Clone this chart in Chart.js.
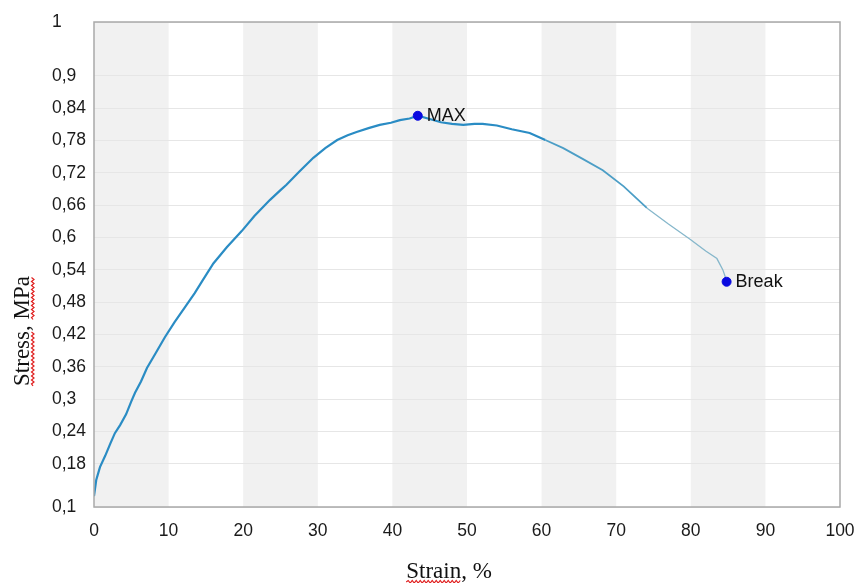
<!DOCTYPE html>
<html>
<head>
<meta charset="utf-8">
<script src="https://cdn.jsdelivr.net/npm/chart.js@4/dist/chart.umd.min.js"></script>
<style>
  html, body { margin: 0; padding: 0; background: #fff; }
  #wrap { width: 858px; height: 583px; }
</style>
</head>
<body>
<div id="wrap"><canvas id="chart"></canvas></div>
<script>
// Данные кривой
const strain = [0, 0.3, 0.8, 1.5, 2.2, 2.8, 3.5, 4.3, 5.0, 5.5, 6.3, 7.1, 8.2, 9.5, 10.8, 12.2, 13.5, 14.5,
    16.0, 17.8, 19.8, 21.5, 23.6, 25.0, 25.8, 27.5, 29.4, 31.0, 32.6, 34.0, 35.2, 36.8, 38.3, 39.8, 41.0,
    42.3, 43.4, 45.0, 46.5, 48.0, 49.5, 51.0, 52.1, 54.0, 56.0, 58.4, 60.5, 62.9, 65.5, 68.2, 71.0, 74.1,
    77.0, 79.9, 82.0, 83.5, 84.3, 84.8];
const stress = [0.12, 0.15, 0.174, 0.195, 0.218, 0.237, 0.252, 0.272, 0.296, 0.312, 0.333, 0.358, 0.384,
    0.415, 0.443, 0.471, 0.497, 0.519, 0.552, 0.582, 0.612, 0.640, 0.670, 0.688, 0.698, 0.722, 0.748, 0.766,
    0.781, 0.790, 0.796, 0.803, 0.809, 0.813, 0.818, 0.821, 0.826, 0.820, 0.814, 0.811, 0.809, 0.811, 0.811,
    0.808, 0.801, 0.794, 0.781, 0.766, 0.746, 0.725, 0.695, 0.655, 0.625, 0.597, 0.575, 0.561, 0.540, 0.520];

// Отмеченные точки
const markerLabels = ['MAX', 'Break'];
const markerStrain = [43.4, 84.8];
const markerStress = [0.826, 0.518];

// Подписи осей
const yTicks = [0.1, 0.18, 0.24, 0.3, 0.36, 0.42, 0.48, 0.54, 0.6, 0.66, 0.72, 0.78, 0.84, 0.9, 1];
const xTitle = 'Strain, %';
const yTitle = 'Stress, MPa';

const curve = strain.map((x, i) => ({ x: x, y: stress[i] }));
const markers = markerStrain.map((x, i) => ({ x: x, y: markerStress[i], label: markerLabels[i] }));

// Серые полосы через одну
const stripes = {
    id: 'stripes',
    beforeDraw(chart) {
        const { ctx, chartArea: a, scales: { x } } = chart;
        ctx.save();
        ctx.fillStyle = '#f1f1f1';
        for (let v = 0; v < 100; v += 20) {
            const x0 = x.getPixelForValue(v);
            const x1 = x.getPixelForValue(v + 10);
            ctx.fillRect(x0, a.top, x1 - x0, a.bottom - a.top);
        }
        ctx.restore();
    },
    afterDraw(chart) {
        const { ctx, chartArea: a } = chart;
        ctx.save();
        ctx.strokeStyle = '#a9a9a9';
        ctx.lineWidth = 1.5;
        ctx.strokeRect(a.left, a.top, a.right - a.left, a.bottom - a.top);
        ctx.restore();
    }
};

// Подписи MAX / Break
const pointLabels = {
    id: 'pointLabels',
    afterDatasetsDraw(chart) {
        const { ctx } = chart;
        const meta = chart.getDatasetMeta(1);
        ctx.save();
        ctx.font = '18px "Liberation Sans", Arial, sans-serif';
        ctx.fillStyle = '#111';
        ctx.textBaseline = 'middle';
        meta.data.forEach((pt, i) => {
            ctx.fillText(markers[i].label, pt.x + 9, pt.y);
        });
        ctx.restore();
    }
};

// Волнистое подчёркивание (как у проверки орфографии)
function wavy(ctx, x0, x1, y) {
    ctx.beginPath();
    let up = true;
    ctx.moveTo(x0, y);
    for (let x = x0 + 2; x <= x1; x += 2) {
        ctx.lineTo(x, up ? y - 1.5 : y + 1);
        up = !up;
    }
    ctx.stroke();
}

// Заголовки осей
const axisTitles = {
    id: 'axisTitles',
    afterDraw(chart) {
        const { ctx } = chart;
        ctx.save();
        ctx.font = '23px "Liberation Serif", "Times New Roman", serif';
        ctx.fillStyle = '#111';
        ctx.textBaseline = 'alphabetic';
        ctx.strokeStyle = '#e02020';
        ctx.lineWidth = 1.2;

        // X
        const xw = ctx.measureText(xTitle).width;
        const xs = 449 - xw / 2;
        ctx.fillText(xTitle, xs, 578);
        wavy(ctx, xs, xs + ctx.measureText('Strain').width, 582);

        // Y
        ctx.translate(29, 331);
        ctx.rotate(-Math.PI / 2);
        const yw = ctx.measureText(yTitle).width;
        const ys = -yw / 2;
        ctx.fillText(yTitle, ys, 0);
        wavy(ctx, ys, ys + ctx.measureText('Stress').width, 4);
        const mpaStart = ys + ctx.measureText('Stress, ').width;
        wavy(ctx, mpaStart, ys + yw, 4);
        ctx.restore();
    }
};

const ctx = document.getElementById('chart').getContext('2d');
new Chart(ctx, {
    type: 'scatter',
    data: {
        datasets: [
            {
                label: 'curve',
                data: curve,
                showLine: true,
                pointRadius: 0,
                borderColor: '#2a8cc4',
                borderWidth: 2.2,
                tension: 0,
                segment: {
                    borderColor: c => c.p0.parsed.x >= 72 ? '#86b7cb' : (c.p0.parsed.x >= 60 ? '#4c9ec6' : '#2a8cc4'),
                    borderWidth: c => c.p0.parsed.x >= 72 ? 1.3 : (c.p0.parsed.x >= 60 ? 1.8 : 2.2)
                },
                order: 2
            },
            {
                label: 'points',
                data: markers,
                pointRadius: 4.5,
                pointBackgroundColor: '#0a0ae0',
                pointBorderColor: '#0a0ae0',
                showLine: false,
                order: 1
            }
        ]
    },
    options: {
        responsive: true,
        maintainAspectRatio: false,
        animation: false,
        layout: { padding: { left: 52, top: 22, right: 18, bottom: 0 } },
        plugins: {
            legend: { display: false },
            tooltip: { enabled: false }
        },
        scales: {
            x: {
                type: 'linear',
                min: 0,
                max: 100,
                ticks: {
                    stepSize: 10,
                    padding: 14,
                    color: '#1a1a1a',
                    font: { family: '"Liberation Sans", Arial, sans-serif', size: 17.5 }
                },
                grid: { display: false, drawTicks: false },
                border: { display: false },
                afterFit: s => { s.height = 76; s.paddingLeft = 0; s.paddingRight = 0; }
            },
            y: {
                type: 'linear',
                min: 0.1,
                max: 1,
                afterBuildTicks: s => { s.ticks = yTicks.map(v => ({ value: v })); },
                ticks: {
                    crossAlign: 'far',
                    color: '#1a1a1a',
                    font: { family: '"Liberation Sans", Arial, sans-serif', size: 17.5 },
                    callback: v => String(+v.toFixed(2)).replace('.', ',')
                },
                grid: { color: '#e6e6e6', lineWidth: 1, drawTicks: false },
                border: { display: false },
                afterFit: s => { s.width = 42; s.paddingTop = 0; s.paddingBottom = 0; }
            }
        }
    },
    plugins: [stripes, pointLabels, axisTitles]
});
</script>
</body>
</html>
